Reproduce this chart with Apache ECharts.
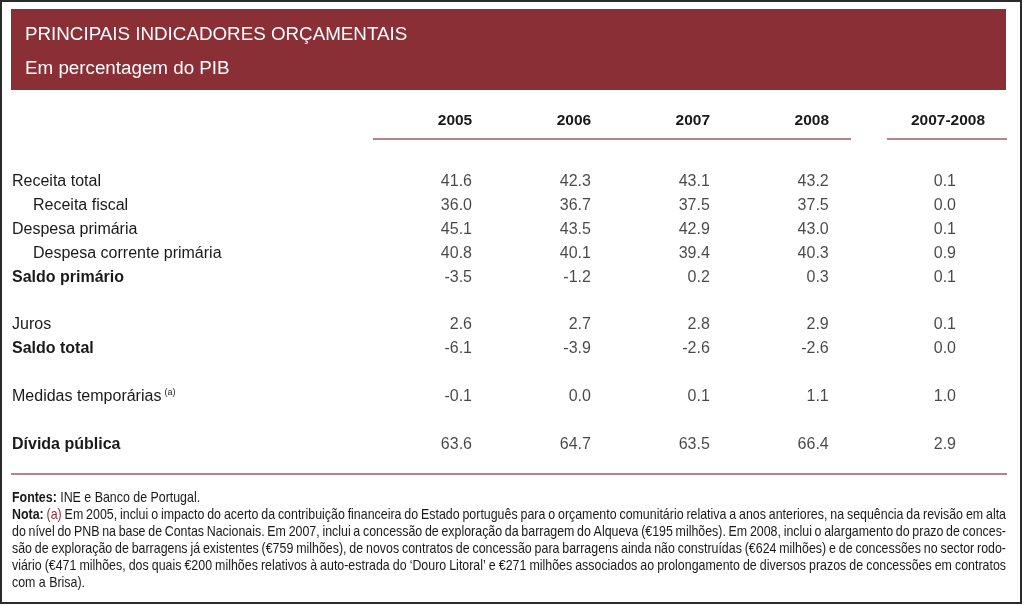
<!DOCTYPE html>
<html><head><meta charset="utf-8">
<script src="https://cdn.jsdelivr.net/npm/echarts@6/dist/echarts.min.js"></script>
<style>html,body{margin:0;padding:0;background:#fff}#c{width:1024px;height:606px}</style>
</head><body><div id="c"></div>
<script>
// ---------- data ----------
const title = 'PRINCIPAIS INDICADORES ORÇAMENTAIS';
const subtitle = 'Em percentagem do PIB';
const columns = ['2005', '2006', '2007', '2008', '2007-2008'];
const rowLabels = ['Receita total', 'Receita fiscal', 'Despesa primária', 'Despesa corrente primária', 'Saldo primário', '',
  'Juros', 'Saldo total', '', 'Medidas temporárias', '', 'Dívida pública'];
const rowIndent = [0, 1, 0, 1, 0, 0, 0, 0, 0, 0, 0, 0];
const rowBold = [0, 0, 0, 0, 1, 0, 0, 1, 0, 0, 0, 1];
const rowNote = ['', '', '', '', '', '', '', '', '', '(a)', '', ''];
const v2005 = [41.6, 36.0, 45.1, 40.8, -3.5, null, 2.6, -6.1, null, -0.1, null, 63.6];
const v2006 = [42.3, 36.7, 43.5, 40.1, -1.2, null, 2.7, -3.9, null, 0.0, null, 64.7];
const v2007 = [43.1, 37.5, 42.9, 39.4, 0.2, null, 2.8, -2.6, null, 0.1, null, 63.5];
const v2008 = [43.2, 37.5, 43.0, 40.3, 0.3, null, 2.9, -2.6, null, 1.1, null, 66.4];
const vDiff = [0.1, 0.0, 0.1, 0.9, 0.1, null, 0.1, 0.0, null, 1.0, null, 2.9];
const footerLines = [
  'Fontes: INE e Banco de Portugal.',
  'Nota: (a) Em 2005, inclui o impacto do acerto da contribuição financeira do Estado português para o orçamento comunitário relativa a anos anteriores, na sequência da revisão em alta',
  'do nível do PNB na base de Contas Nacionais. Em 2007, inclui a concessão de exploração da barragem do Alqueva (€195 milhões). Em 2008, inclui o alargamento do prazo de conces-',
  'são de exploração de barragens já existentes (€759 milhões), de novos contratos de concessão para barragens ainda não construídas (€624 milhões) e de concessões no sector rodo-',
  'viário (€471 milhões, dos quais €200 milhões relativos à auto-estrada do ‘Douro Litoral’ e €271 milhões associados ao prolongamento de diversos prazos de concessões em contratos',
  'com a Brisa).'
];
const footerBoldWords = ['Fontes:', 'Nota:'];
const footerRedWords = ['(a)'];

// ---------- layout / style ----------
const colSeries = [v2005, v2006, v2007, v2008, vDiff];
const colX = [0, 1, 2, 3, 4.07];
const FONT = "'Liberation Sans', Arial, sans-serif";
const RED = '#8a2f35';
const LINE = '#b98287';
const TXT = '#1a1a1a';
const TSIZE = 16;

const chart = echarts.init(document.getElementById('c'), null, {renderer: 'canvas'});

const rowKeys = rowLabels.map((l, i) => 'r' + i);
const series = colSeries.map((vals, c) => ({
  type: 'scatter',
  name: columns[c],
  symbolSize: 0,
  silent: true,
  data: vals.map((v, i) => v == null ? null : [colX[c], rowKeys[i], v]).filter(d => d),
  label: {
    show: true, position: 'left', distance: 0,
    formatter: p => p.value[2].toFixed(1),
    color: TXT, fontFamily: FONT, fontSize: TSIZE
  }
}));

chart.setOption({
  animation: false,
  grid: {left: 472, right: 68, top: 169.5, height: 287},
  xAxis: {type: 'value', min: 0, max: 4.07, show: false},
  yAxis: {
    type: 'category', data: rowKeys, inverse: true,
    axisLine: {show: false}, axisTick: {show: false}, splitLine: {show: false},
    axisLabel: {
      align: 'left', margin: 460,
      formatter: (val, idx) => {
        const l = rowLabels[idx];
        if (!l) return '';
        const st = rowBold[idx] ? 'b' : (rowIndent[idx] ? 'i' : 'n');
        let s = '{' + st + '|' + l + '}';
        if (rowNote[idx]) s += '{s|' + rowNote[idx] + '}';
        return s;
      },
      rich: {
        n: {fontFamily: FONT, fontSize: TSIZE, color: TXT},
        i: {fontFamily: FONT, fontSize: TSIZE, color: TXT, padding: [0, 0, 0, 21]},
        b: {fontFamily: FONT, fontSize: TSIZE, color: TXT, fontWeight: 'bold'},
        s: {fontFamily: FONT, fontSize: 9, color: TXT, padding: [0, 0, 9, 3]}
      }
    }
  },
  series
});

// ---------- graphic: frame, header, lines, footer ----------
const g = [];
g.push({type: 'rect', shape: {x: 1, y: 1, width: 1020, height: 602}, style: {fill: null, stroke: '#2b2b2b', lineWidth: 2}, silent: true});
g.push({type: 'rect', shape: {x: 11, y: 9, width: 995, height: 81}, style: {fill: RED}, silent: true});
g.push({type: 'text', x: 25, y: 35, style: {text: title, fill: '#fff', font: '18.8px ' + FONT, verticalAlign: 'middle'}, silent: true});
g.push({type: 'text', x: 25, y: 69, style: {text: subtitle, fill: '#fff', font: '18.8px ' + FONT, verticalAlign: 'middle'}, silent: true});

// column headers positioned from the axis scale
columns.forEach((c, i) => {
  const px = chart.convertToPixel({gridIndex: 0}, [colX[i], 0])[0];
  const off = i < 4 ? 17 : 8;
  g.push({type: 'text', x: px - off, y: 120.5, style: {text: c, fill: TXT, font: 'bold 15.5px ' + FONT, align: 'center', verticalAlign: 'middle'}, silent: true});
});
g.push({type: 'line', shape: {x1: 373, y1: 139, x2: 851, y2: 139}, style: {stroke: LINE, lineWidth: 2}, silent: true});
g.push({type: 'line', shape: {x1: 887, y1: 139, x2: 1007, y2: 139}, style: {stroke: LINE, lineWidth: 2}, silent: true});
g.push({type: 'line', shape: {x1: 11, y1: 474, x2: 1007, y2: 474}, style: {stroke: LINE, lineWidth: 2}, silent: true});

// footer with justified lines (narrow look via horizontal scale)
const FS = 14.5, SX = 0.855;
const ctx = document.createElement('canvas').getContext('2d');
function fontFor(w) { return (footerBoldWords.includes(w) ? 'bold ' : '') + FS + 'px ' + FONT; }
function measure(w) { ctx.font = fontFor(w); return ctx.measureText(w).width * SX; }
const fx0 = 12, fx1 = 1006, fy0 = 497.5, flh = 17;
footerLines.forEach((line, li) => {
  const words = line.split(' ');
  const widths = words.map(measure);
  ctx.font = FS + 'px ' + FONT;
  const sp = ctx.measureText(' ').width * SX;
  const total = widths.reduce((a, b) => a + b, 0);
  const justify = li > 0 && li < footerLines.length - 1;
  const gap = justify ? (fx1 - fx0 - total) / (words.length - 1) : sp;
  let x = fx0;
  words.forEach((w, wi) => {
    g.push({type: 'text', x, y: fy0 + li * flh, scaleX: SX, silent: true,
      style: {text: w, font: fontFor(w), fill: footerRedWords.includes(w) ? RED : TXT, verticalAlign: 'middle'}});
    x += widths[wi] + gap;
  });
});

chart.setOption({graphic: {elements: g}});
</script>
</body></html>
